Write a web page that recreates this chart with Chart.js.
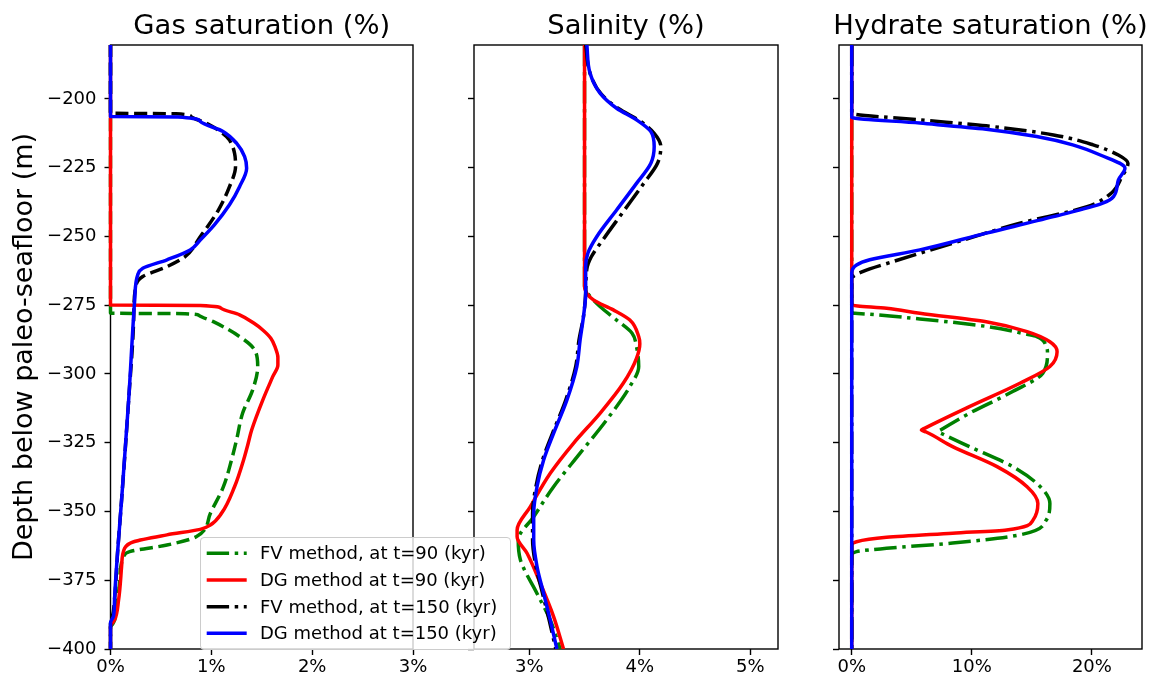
<!DOCTYPE html>
<html>
<head>
<meta charset="utf-8">
<script src="https://cdn.jsdelivr.net/npm/chart.js@4.4.0/dist/chart.umd.min.js"></script>
<style>
html,body{margin:0;padding:0;background:#fff;width:1151px;height:680px;overflow:hidden;font-family:"DejaVu Sans",sans-serif;}
canvas.cv{position:absolute;left:0;top:0;width:1151px;height:680px;}
#legend{position:absolute;left:200px;top:537px;width:311px;height:113px;border:1px solid #cccccc;border-radius:4px;background:rgba(255,255,255,0.8);box-sizing:border-box;}
#legend svg{position:absolute;left:0;top:0;}
#legend .lt{position:absolute;left:59px;height:20px;line-height:20px;font-size:18px;color:#000;white-space:nowrap;font-family:"DejaVu Sans",sans-serif;}
</style>
</head>
<body>
<canvas id="c1" class="cv" width="1151" height="680"></canvas>
<canvas id="c2" class="cv" width="1151" height="680"></canvas>
<canvas id="c3" class="cv" width="1151" height="680"></canvas>
<div id="legend"></div>
<script>
// ---------------- data: [value (%), depth (m)] ----------------
const panelTitles = ['Gas saturation (%)', 'Salinity (%)', 'Hydrate saturation (%)'];
const yLabel = 'Depth below paleo-seafloor (m)';
const seriesLabels = ['FV method, at t=90 (kyr)', 'DG method at t=90 (kyr)', 'FV method, at t=150 (kyr)', 'DG method at t=150 (kyr)'];
const yTicks = [-400, -375, -350, -325, -300, -275, -250, -225, -200];
const gasTicks = [0, 1, 2, 3];
const salTicks = [3, 4, 5];
const hydTicks = [0, 10, 20];

// Gas saturation
const gasFV90 = [[0,-180],[0,-277.9],[0.74,-278.1],[0.88,-278.8],[1.02,-281],[1.28,-286.4],[1.43,-291.3],[1.46,-297.3],[1.41,-305.8],[1.31,-314.3],[1.25,-324],[1.20,-331.3],[1.12,-341],[0.99,-350.7],[0.85,-359.2],[0.56,-362.2],[0.19,-364.6],[0.13,-366.4],[0.09,-376],[0.06,-385],[0.04,-389.5],[0.02,-391],[0,-392],[0,-400]];
const gasDG90 = [[0,-180],[0,-274.9],[0.89,-275.1],[1.10,-276.2],[1.28,-278.5],[1.42,-281.5],[1.51,-284],[1.59,-287],[1.63,-290],[1.66,-294],[1.66,-296.7],[1.61,-300.9],[1.51,-309.5],[1.40,-320.4],[1.36,-326],[1.33,-330],[1.23,-341],[1.10,-350.7],[0.99,-354.9],[0.89,-356.5],[0.56,-358.5],[0.23,-361],[0.14,-363.4],[0.11,-370],[0.08,-382.2],[0.04,-389.5],[0.01,-391],[0,-392],[0,-400]];
const gasFV150 = [[0,-180],[0,-205.2],[0.65,-205.4],[0.80,-206.5],[0.95,-208.8],[1.15,-213.7],[1.23,-219.7],[1.24,-224.6],[1.18,-231.9],[1.07,-240.4],[0.89,-250.1],[0.74,-257.3],[0.56,-261],[0.32,-264.6],[0.25,-268.2],[0.23,-280],[0.18,-309.5],[0.11,-345.8],[0.07,-365],[0.04,-382],[0.02,-388],[0,-390],[0,-400]];
const gasDG150 = [[0,-180],[0,-206.4],[0.67,-206.6],[0.89,-208.2],[1.12,-211.9],[1.25,-216.1],[1.33,-221],[1.35,-225.2],[1.28,-231.9],[1.18,-238.5],[1.03,-245.8],[0.89,-251.3],[0.79,-254.9],[0.56,-258.5],[0.32,-261.6],[0.27,-264],[0.24,-273.1],[0.18,-309.5],[0.11,-345.8],[0.07,-365],[0.04,-382],[0.03,-388],[0,-390.5],[0,-400]];

// Salinity
const salFV90 = [[3.50,-180],[3.50,-268],[3.53,-270.7],[3.64,-275.5],[3.79,-280.4],[3.93,-285.2],[3.97,-290.1],[3.99,-297.3],[3.91,-304.6],[3.70,-316.7],[3.46,-328.8],[3.22,-341],[3.04,-351.9],[2.90,-360.4],[2.92,-367.6],[3.07,-379.8],[3.19,-389.5],[3.28,-400]];
const salDG90 = [[3.50,-180],[3.50,-268.2],[3.58,-273.1],[3.76,-276.7],[3.91,-280.4],[3.99,-286.4],[4.00,-289],[3.97,-294.3],[3.85,-303.4],[3.64,-314.3],[3.40,-325.2],[3.19,-336.1],[3.01,-348.2],[2.89,-356.7],[2.89,-359.2],[2.98,-365.2],[3.10,-376.1],[3.22,-388.2],[3.31,-400]];
const salFV150 = [[3.51,-180],[3.55,-190.7],[3.65,-198.2],[3.81,-203.6],[4.00,-208],[4.13,-212.5],[4.19,-217.3],[4.16,-223.4],[4.03,-231],[3.85,-241],[3.67,-251],[3.56,-257.5],[3.52,-262],[3.51,-270.7],[3.49,-279.2],[3.45,-287.6],[3.42,-297.3],[3.33,-309.5],[3.21,-321.6],[3.12,-331.3],[3.06,-341],[3.03,-350.7],[3.03,-360.4],[3.06,-370],[3.12,-379.8],[3.18,-389.5],[3.24,-400]];
const salDG150 = [[3.52,-180],[3.55,-190.7],[3.64,-197.9],[3.79,-203.4],[3.97,-207.6],[4.10,-211.9],[4.13,-217.3],[4.10,-223.4],[3.97,-230.7],[3.79,-240.4],[3.61,-250.1],[3.53,-256.1],[3.51,-261],[3.51,-270.7],[3.49,-279.2],[3.46,-287.6],[3.43,-297.3],[3.34,-309.5],[3.22,-321.6],[3.13,-331.3],[3.07,-341],[3.04,-350.7],[3.04,-360.4],[3.07,-370],[3.13,-379.8],[3.19,-389.5],[3.25,-400]];

// Hydrate saturation
const hydFV90 = [[0,-180],[0,-277.9],[0.5,-278.0],[5.67,-280],[11.2,-282.7],[14.6,-285.6],[15.4,-286.4],[16.2,-290],[16.3,-292.5],[15.9,-299.8],[13.4,-306.4],[9.8,-314.3],[7.4,-320.4],[7.2,-321],[7.5,-321.7],[9.8,-326.4],[13.4,-333.7],[15.7,-341],[16.5,-347.1],[16.2,-353.1],[14,-358.5],[8.4,-361.5],[2.9,-363.4],[0.4,-364.6],[0,-366],[0,-400]];
const hydDG90 = [[0,-180],[0,-274.9],[2.9,-276.1],[5.67,-277.9],[11.2,-281],[14.6,-284.6],[16.5,-288.3],[17.1,-291.9],[16.5,-297.3],[14,-303.4],[9.8,-311.9],[6.1,-319.7],[5.8,-320.4],[6.2,-321.1],[8.4,-326.4],[12.1,-333.7],[14.6,-341],[15.5,-347.1],[15.1,-353.1],[12.9,-356.7],[8.4,-357.9],[2.9,-359.4],[0.4,-361],[0,-362.4],[0,-400]];
const hydFV150 = [[0,-180],[0,-205.2],[5.67,-207.6],[11.2,-209.8],[16.8,-213.1],[20.1,-216.7],[22.2,-220.4],[23.0,-223.4],[22.5,-228.2],[21.6,-234.3],[19.6,-239.2],[14,-245.2],[8.4,-252.5],[3.4,-259.2],[0.9,-262.8],[0,-265.3],[0,-400]];
const hydDG150 = [[0,-180],[0,-206.7],[5.67,-208.8],[11.2,-211],[15.4,-213.7],[18.4,-216.7],[20.7,-220.4],[22.75,-225.2],[22.2,-229.5],[21.8,-235.5],[20.9,-237.9],[16.8,-242.8],[11.2,-248.8],[5.67,-254.9],[1.5,-258.5],[0.4,-260.4],[0,-263.3],[0,-400]];

// ---------------- rendering ----------------
const FONT = 'DejaVu Sans';
Chart.defaults.font.family = FONT;
const colors = ['#008000', '#ff0000', '#000000', '#0000ff'];
const LW = 3.5;
const DASHDOT = [22.4, 5.6, 3.5, 5.6];
const DASHED = [13, 5.6];

const framePlugin = {
  id: 'frame',
  beforeDatasetsDraw(chart) {
    const {ctx, chartArea: a} = chart;
    ctx.save();
    ctx.strokeStyle = '#000';
    ctx.lineWidth = 1.4;
    ctx.strokeRect(a.left, a.top, a.right - a.left, a.bottom - a.top);
    ctx.restore();
  }
};
const titlePlugin = {
  id: 'panelTitle',
  afterDraw(chart, args, opts) {
    const {ctx, chartArea: a} = chart;
    ctx.save();
    ctx.font = '27.4px "' + FONT + '"';
    ctx.fillStyle = '#000';
    ctx.textAlign = 'center';
    ctx.textBaseline = 'alphabetic';
    ctx.fillText(opts.text, (a.left + a.right) / 2, 33.5);
    ctx.restore();
  }
};

function makePanel(id, idx, series, xTicks, xMin, xMax, left, right, fvDash) {
  const yW = idx === 0 ? 110.5 : 10;
  const datasets = series.map((s, i) => ({
    label: seriesLabels[i],
    data: s.map(p => ({x: p[0], y: p[1]})),
    borderColor: colors[i],
    backgroundColor: colors[i],
    borderWidth: LW,
    borderDash: (i === 0 || i === 2) ? fvDash : [],
    borderJoinStyle: 'round',
    cubicInterpolationMode: 'monotone',
    pointRadius: 0,
    pointHoverRadius: 0,
    fill: false,
    order: 4 - i,
    clip: {left: 5, right: 5, top: 0, bottom: 0}
  }));
  return new Chart(document.getElementById(id), {
    type: 'line',
    data: {datasets},
    options: {
      indexAxis: 'y',
      responsive: false,
      animation: false,
      events: [],
      layout: {padding: {left: left - yW, right: 1151 - right, top: 45, bottom: 0}},
      plugins: {legend: {display: false}, tooltip: {enabled: false}, panelTitle: {text: panelTitles[idx]}},
      scales: {
        x: {
          type: 'linear', position: 'bottom', min: xMin, max: xMax,
          afterBuildTicks: s => { s.ticks = xTicks.map(v => ({value: v})); },
          afterFit: s => { s.height = 31; },
          ticks: {callback: v => v + '%', font: {family: FONT, size: 18}, color: '#000', padding: 2, maxRotation: 0, autoSkip: false},
          grid: {display: true, drawOnChartArea: false, drawTicks: true, tickLength: 6, tickWidth: 1.4, tickColor: '#000'},
          border: {display: false}
        },
        y: {
          type: 'linear', position: 'left', reverse: false, min: -400, max: -180.4,
          afterBuildTicks: s => { s.ticks = yTicks.map(v => ({value: v})); },
          afterFit: s => { s.width = yW; },
          ticks: {display: idx === 0, callback: v => String(v).replace('-', '\u2212'), font: {family: FONT, size: 18}, color: '#000', padding: 8, autoSkip: false},
          grid: {display: true, drawOnChartArea: false, drawTicks: true, tickLength: 6, tickWidth: 1.4, tickColor: '#000'},
          border: {display: false},
          title: {display: idx === 0, text: yLabel, color: '#000', font: {family: FONT, size: 27}, padding: {top: 9, bottom: 0}}
        }
      }
    },
    plugins: [framePlugin, titlePlugin]
  });
}

makePanel('c1', 0, [gasFV90, gasDG90, gasFV150, gasDG150], gasTicks, 0, 3, 110.5, 413, DASHED);
makePanel('c2', 1, [salFV90, salDG90, salFV150, salDG150], salTicks, 2.5, 5.25, 474, 778, DASHDOT);
makePanel('c3', 2, [hydFV90, hydDG90, hydFV150, hydDG150], hydTicks, -1.06, 24.17, 839, 1142, DASHDOT);

// legend (HTML overlay)
(function () {
  const lg = document.getElementById('legend');
  const rowsY = [15.3, 42, 68.7, 95.3];
  const NS = 'http://www.w3.org/2000/svg';
  const svg = document.createElementNS(NS, 'svg');
  svg.setAttribute('width', '60');
  svg.setAttribute('height', '111');
  seriesLabels.forEach((lab, i) => {
    const ln = document.createElementNS(NS, 'line');
    ln.setAttribute('x1', '5.7'); ln.setAttribute('x2', '45.7');
    ln.setAttribute('y1', rowsY[i]); ln.setAttribute('y2', rowsY[i]);
    ln.setAttribute('stroke', colors[i]);
    ln.setAttribute('stroke-width', LW);
    if (i === 0 || i === 2) ln.setAttribute('stroke-dasharray', DASHDOT.join(' '));
    svg.appendChild(ln);
    const t = document.createElement('div');
    t.className = 'lt';
    t.style.top = (rowsY[i] - 10) + 'px';
    t.textContent = lab;
    lg.appendChild(t);
  });
  lg.insertBefore(svg, lg.firstChild);
})();
</script>
</body>
</html>
